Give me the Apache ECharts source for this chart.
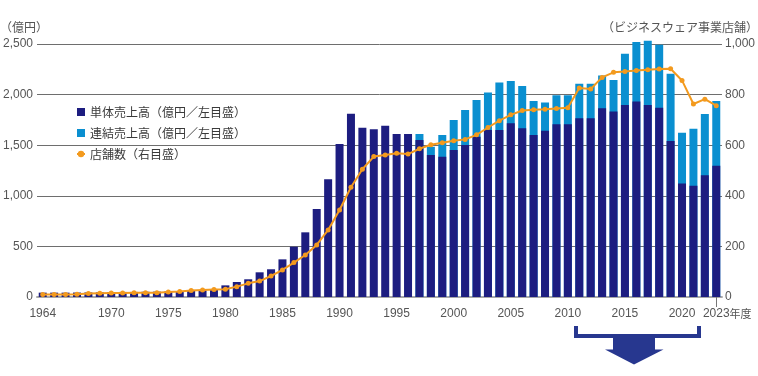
<!DOCTYPE html>
<html>
<head>
<meta charset="utf-8">
<script src="https://cdn.jsdelivr.net/npm/echarts@6/dist/echarts.min.js"></script>
<style>
  html, body { margin: 0; padding: 0; background: #fff; }
  #chart { width: 758px; height: 376px; }
</style>
</head>
<body>
<div id="chart"></div>
<script>
// 年度 1964-2023
const years = []
for (let y = 1964; y <= 2023; y++) years.push(String(y))
const labelYears = ['1964', '1970', '1975', '1980', '1985', '1990', '1995', '2000', '2005', '2010', '2015', '2020', '2023']

// 単体売上高（億円）
const singleSales = [
  43, 43, 43, 44, 45, 46, 48, 50, 50, 52,
  53, 55, 58, 62, 66, 76, 115, 148, 175, 244,
  274, 372, 497, 639, 869, 1163, 1512, 1811, 1673, 1657,
  1693, 1611, 1611, 1551, 1403, 1386, 1452, 1502, 1584, 1650,
  1650, 1716, 1667, 1601, 1643, 1707, 1707, 1766, 1766, 1865,
  1832, 1898, 1931, 1898, 1871, 1541, 1122, 1099, 1202, 1297
]
// 連結売上高（億円）1997年度から
const consolidatedSales = [
  null, null, null, null, null, null, null, null, null, null,
  null, null, null, null, null, null, null, null, null, null,
  null, null, null, null, null, null, null, null, null, null,
  null, null, null, 1611, 1485, 1601, 1749, 1848, 1947, 2020,
  2119, 2135, 2086, 1937, 1921, 1994, 1994, 2106, 2106, 2188,
  2145, 2403, 2519, 2532, 2492, 2205, 1624, 1663, 1809, 1937
]
// 店舗数（ビジネスウェア事業）
const storeCount = [
  10, 10, 10, 11, 14, 15, 16, 16, 17, 17,
  17, 20, 22, 26, 28, 30, 31, 41, 54, 63,
  83, 107, 136, 166, 206, 265, 344, 434, 505, 555,
  561, 568, 565, 586, 602, 610, 618, 623, 641, 670,
  697, 720, 737, 740, 742, 745, 748, 826, 822, 868,
  888, 891, 895, 898, 901, 902, 856, 763, 782, 756
]

const numFont = '"Liberation Sans", Arial, sans-serif'
const jpFont = '"Noto Sans CJK JP", sans-serif'
const navy = '#1d1d80'
const lightBlue = '#0a8fd0'
const orange = '#f39a1e'
const arrowBlue = '#27378f'

const chart = echarts.init(document.getElementById('chart'))

const fmt = v => v.toLocaleString('en-US')
const lastYear = years[years.length - 1]

const option = {
  animation: false,
  grid: { left: 33, right: 34, top: 44, bottom: 79 },
  legend: {
    orient: 'vertical',
    left: 71,
    top: 101,
    itemWidth: 8,
    itemHeight: 8,
    itemGap: 9,
    textStyle: { fontSize: 12, color: '#3a3a3a', fontFamily: jpFont },
    data: [
      { name: '単体売上高（億円／左目盛）', icon: 'rect' },
      { name: '連結売上高（億円／左目盛）', icon: 'rect' },
      { name: '店舗数（右目盛）' }
    ]
  },
  xAxis: {
    type: 'category',
    data: years,
    axisLine: { lineStyle: { color: '#a8a8a8', width: 2 } },
    axisTick: {
      show: true,
      alignWithLabel: true,
      length: 10,
      interval: (i) => i === years.length - 1,
      lineStyle: { color: '#777' }
    },
    axisLabel: {
      interval: 0,
      margin: 11,
      color: '#555',
      fontSize: 12,
      fontFamily: numFont,
      formatter: v => {
        if (v === lastYear) return '{p|}{y|' + v + '}{n|年度}'
        return labelYears.includes(v) ? v : ''
      },
      rich: {
        p: { width: 22 },
        y: { fontSize: 12, fontFamily: numFont, color: '#555' },
        n: { fontSize: 11, fontFamily: jpFont, color: '#555' }
      }
    }
  },
  yAxis: [
    {
      type: 'value',
      min: 0,
      max: 2500,
      interval: 500,
      axisLine: { show: false },
      axisTick: { show: false },
      splitLine: { lineStyle: { color: '#6e6e6e', width: 1 } },
      axisLabel: { margin: 4, color: '#555', fontSize: 12, fontFamily: numFont, formatter: fmt }
    },
    {
      type: 'value',
      min: 0,
      max: 1000,
      interval: 200,
      axisLine: { show: false },
      axisTick: { show: false },
      splitLine: { show: false },
      axisLabel: { margin: 3, color: '#555', fontSize: 12, fontFamily: numFont, formatter: fmt }
    }
  ],
  series: [
    {
      name: '連結売上高（億円／左目盛）',
      type: 'bar',
      data: consolidatedSales,
      barWidth: 8,
      barGap: '-100%',
      clip: false,
      itemStyle: { color: lightBlue }
    },
    {
      name: '単体売上高（億円／左目盛）',
      type: 'bar',
      data: singleSales,
      barWidth: 8,
      barGap: '-100%',
      clip: false,
      itemStyle: { color: navy }
    },
    {
      name: '店舗数（右目盛）',
      type: 'line',
      yAxisIndex: 1,
      data: storeCount,
      symbol: 'circle',
      symbolSize: 5,
      z: 5,
      lineStyle: { color: orange, width: 2 },
      itemStyle: { color: orange }
    }
  ],
  graphic: [
    {
      type: 'text', left: 0, top: 21,
      style: { text: '（億円）', font: '12px ' + jpFont, fill: '#555' }
    },
    {
      type: 'text', right: 0, top: 21,
      style: { text: '（ビジネスウェア事業店舗）', font: '12px ' + jpFont, fill: '#555' }
    },
    // 下の括弧と矢印
    {
      type: 'polyline',
      shape: { points: [[576, 326], [576, 336], [699, 336], [699, 326]] },
      style: { stroke: arrowBlue, lineWidth: 4, fill: null }
    },
    {
      type: 'polygon',
      shape: { points: [[613, 337], [655, 337], [655, 349.5], [663.5, 349.5], [634, 364.5], [605, 349.5], [613, 349.5]] },
      style: { fill: arrowBlue }
    }
  ]
}

chart.setOption(option)
</script>
</body>
</html>
